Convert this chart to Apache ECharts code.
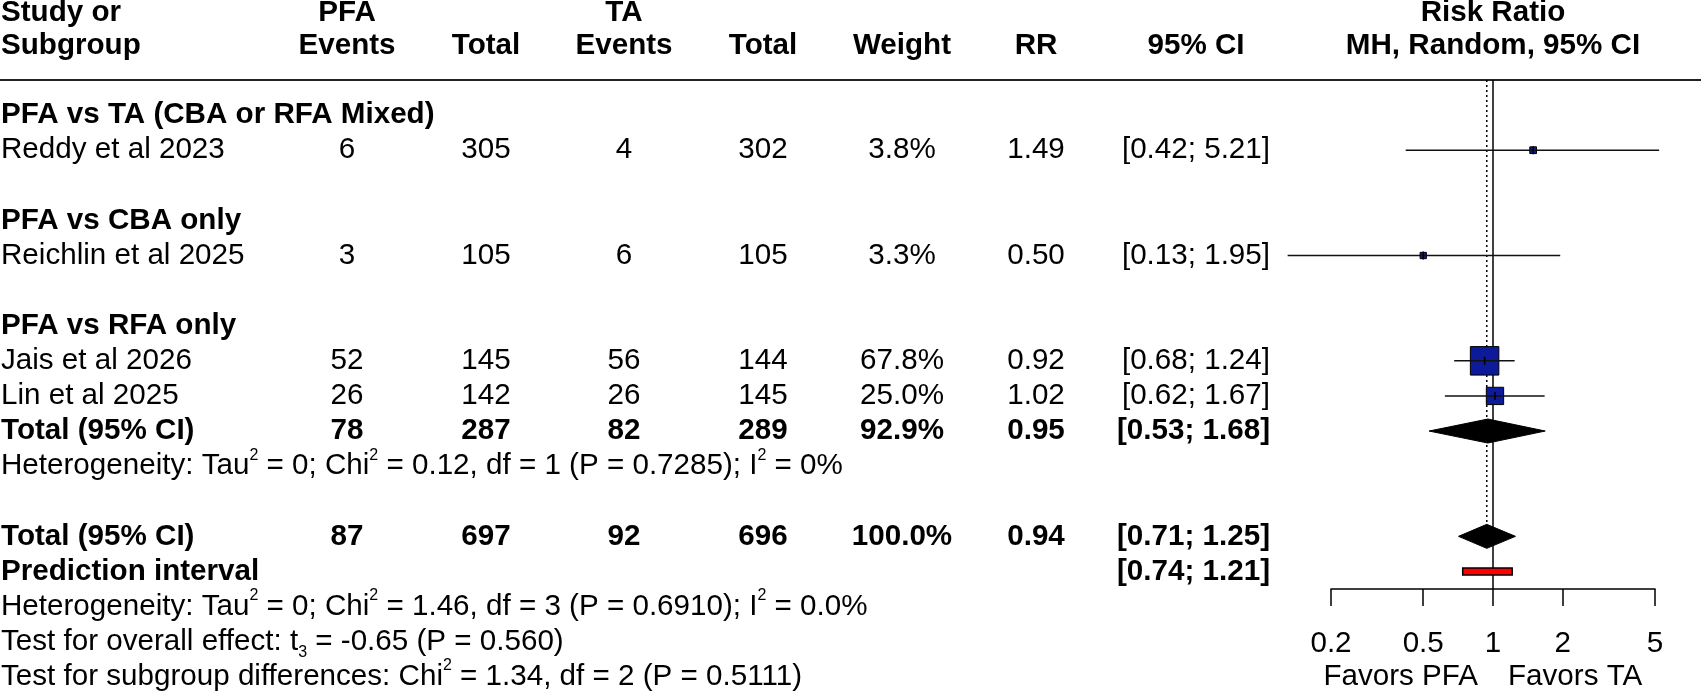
<!DOCTYPE html>
<html>
<head>
<meta charset="utf-8">
<title>Forest plot - PFA vs TA</title>
<script src="https://cdn.jsdelivr.net/npm/echarts@6/dist/echarts.min.js"></script>
<style>
html, body { margin: 0; padding: 0; background: #fff; }
#chart { width: 1701px; height: 695px; }
</style>
</head>
<body>
<div id="chart"></div>
<script>
// ---- data ----
var groups = ['PFA vs TA (CBA or RFA Mixed)', 'PFA vs CBA only', 'PFA vs RFA only'];
var studies = ['Reddy et al 2023', 'Reichlin et al 2025', 'Jais et al 2026', 'Lin et al 2025'];
var studyGroup = [0, 1, 2, 2];
var pfaEvents = [6, 3, 52, 26];
var pfaTotal = [305, 105, 145, 142];
var taEvents = [4, 6, 56, 26];
var taTotal = [302, 105, 144, 145];
var weights = [3.8, 3.3, 67.8, 25.0];
var rr = [1.49, 0.50, 0.92, 1.02];
var ciLow = [0.42, 0.13, 0.68, 0.62];
var ciHigh = [5.21, 1.95, 1.24, 1.67];

// pooled subgroup (only the subgroup with more than one study)
var subGroup = [2];
var subPfaEvents = [78];
var subPfaTotal = [287];
var subTaEvents = [82];
var subTaTotal = [289];
var subWeight = [92.9];
var subRR = [0.95];
var subLow = [0.53];
var subHigh = [1.68];
var subHet = ['Heterogeneity: Tau{sup|2} = 0; Chi{sup|2} = 0.12, df = 1 (P = 0.7285); I{sup|2} = 0%'];

// overall
var totalPfa = [87, 697];
var totalTa = [92, 696];
var totalWeight = [100.0];
var totalRR = [0.94];
var totalCI = [0.71, 1.25];
var predCI = [0.74, 1.21];
var footnotes = [
	'Heterogeneity: Tau{sup|2} = 0; Chi{sup|2} = 1.46, df = 3 (P = 0.6910); I{sup|2} = 0.0%',
	'Test for overall effect: t{sub|3} = -0.65 (P = 0.560)',
	'Test for subgroup differences: Chi{sup|2} = 1.34, df = 2 (P = 0.5111)'
];

var tickValues = [0.2, 0.5, 1, 2, 5];
var favorLabels = ['Favors PFA', 'Favors TA'];
var headTop = ['Study or', 'PFA', '', 'TA', '', '', '', '', 'Risk Ratio'];
var headBottom = ['Subgroup', 'Events', 'Total', 'Events', 'Total', 'Weight', 'RR', '95% CI', 'MH, Random, 95% CI'];

// ---- layout ----
var FONT = "'Liberation Sans', Arial, Helvetica, sans-serif";
var FS = 29.6;
var SQUARE_SCALE = 3.46;   // px per sqrt(weight)
var DIAMOND_H = 12;
var HEAD_ROWS = [-2.92, -1.98];
// column x (px) and alignment
var cols = [
	[1, 'left'], [347, 'center'], [486, 'center'], [624, 'center'], [763, 'center'],
	[902, 'center'], [1036, 'center'], [1270, 'right']
];
var headCols = [
	[1, 'left'], [347, 'center'], [486, 'center'], [624, 'center'], [763, 'center'],
	[902, 'center'], [1036, 'center'], [1196, 'center'], [1493, 'center']
];

function pct(v) { return v.toFixed(1) + '%'; }
function ci(a, b) { return '[' + a.toFixed(2) + '; ' + b.toFixed(2) + ']'; }

var cells = [];     // text cells
var squares = [];   // [rr, row, lo, hi, weight]
var diamonds = [];  // [est, row, lo, hi]

function pushRow(row, values, bold) {
	values.forEach(function (v, i) {
		if (v === null) return;
		cells.push({ row: row, x: cols[i][0], align: cols[i][1], text: String(v), bold: bold });
	});
}

headTop.forEach(function (t, i) {
	if (t) cells.push({ row: HEAD_ROWS[0], x: headCols[i][0], align: headCols[i][1], text: t, bold: true });
});
headBottom.forEach(function (t, i) {
	cells.push({ row: HEAD_ROWS[1], x: headCols[i][0], align: headCols[i][1], text: t, bold: true });
});

var row = 0;
groups.forEach(function (g, gi) {
	cells.push({ row: row, x: cols[0][0], align: 'left', text: g, bold: true });
	row++;
	studies.forEach(function (s, i) {
		if (studyGroup[i] !== gi) return;
		pushRow(row, [s, pfaEvents[i], pfaTotal[i], taEvents[i], taTotal[i],
			pct(weights[i]), rr[i].toFixed(2), ci(ciLow[i], ciHigh[i])], false);
		squares.push([rr[i], row, ciLow[i], ciHigh[i], weights[i]]);
		row++;
	});
	var k = subGroup.indexOf(gi);
	if (k >= 0) {
		pushRow(row, ['Total (95% CI)', subPfaEvents[k], subPfaTotal[k], subTaEvents[k], subTaTotal[k],
			pct(subWeight[k]), subRR[k].toFixed(2), ci(subLow[k], subHigh[k])], true);
		diamonds.push([subRR[k], row, subLow[k], subHigh[k]]);
		row++;
		cells.push({ row: row, x: cols[0][0], align: 'left', text: subHet[k] });
		row++;
	}
	row++;
});

var totalRow = row;
pushRow(row, ['Total (95% CI)', totalPfa[0], totalPfa[1], totalTa[0], totalTa[1],
	pct(totalWeight[0]), totalRR[0].toFixed(2), ci(totalCI[0], totalCI[1])], true);
diamonds.push([totalRR[0], row, totalCI[0], totalCI[1]]);
row++;
var predRow = row;
pushRow(row, ['Prediction interval', null, null, null, null, null, null, ci(predCI[0], predCI[1])], true);
row++;
footnotes.forEach(function (t) {
	cells.push({ row: row, x: cols[0][0], align: 'left', text: t });
	row++;
});
var favorRow = row - 1;

var rich = {
	sup: { fontSize: 16, lineHeight: 16, verticalAlign: 'top', fontFamily: FONT, fill: '#000' },
	sub: { fontSize: 16, lineHeight: 28, verticalAlign: 'bottom', fontFamily: FONT, fill: '#000' }
};

var chart = echarts.init(document.getElementById('chart'));

chart.setOption({
	animation: false,
	backgroundColor: '#fff',
	grid: { left: 1331, top: 80, width: 324, height: 509, outerBoundsMode: 'none' },
	xAxis: {
		type: 'log',
		logBase: 10,
		min: 0.2,
		max: 5,
		axisLine: { onZero: false, lineStyle: { color: '#000', width: 1.5 } },
		axisTick: { customValues: tickValues, length: 17, lineStyle: { color: '#000', width: 1.5 } },
		axisLabel: {
			customValues: tickValues,
			margin: 40,
			color: '#000',
			fontSize: FS,
			lineHeight: FS,
			fontFamily: FONT,
			formatter: function (v) { return String(+(+v).toPrecision(2)); }
		},
		splitLine: { show: false },
		minorTick: { show: false }
	},
	yAxis: { type: 'value', min: -1, max: 13.5, inverse: true, show: false },
	graphic: [{
		type: 'line',
		shape: { x1: 0, y1: 80, x2: 1701, y2: 80 },
		style: { stroke: '#222', lineWidth: 2 }
	}],
	series: [
		{
			// reference line at 1 and dotted pooled-estimate line
			type: 'custom',
			z: 1,
			data: [[1, -1]],
			renderItem: function (params, api) {
				var top = api.coord([1, -1]);
				var bottom = api.coord([1, 13.5]);
				var est = api.coord([totalRR[0], totalRow]);
				return {
					type: 'group',
					children: [
						{ type: 'line', shape: { x1: top[0], y1: top[1], x2: bottom[0], y2: bottom[1] },
							style: { stroke: '#000', lineWidth: 1.5 } },
						{ type: 'line', shape: { x1: est[0], y1: top[1], x2: est[0], y2: est[1] - DIAMOND_H },
							style: { stroke: '#000', lineWidth: 1.5, lineDash: [2, 3] } }
					]
				};
			}
		},
		{
			type: 'custom',
			z: 2,
			data: squares,
			renderItem: function (params, api) {
				var y = api.value(1);
				var p = api.coord([api.value(0), y]);
				var lo = api.coord([api.value(2), y]);
				var hi = api.coord([api.value(3), y]);
				var s = Math.sqrt(api.value(4)) * SQUARE_SCALE;
				return {
					type: 'group',
					children: [
						{ type: 'rect', shape: { x: p[0] - s / 2, y: p[1] - s / 2, width: s, height: s },
							style: { fill: '#0d1a99', stroke: '#000', lineWidth: 1 } },
						{ type: 'line', shape: { x1: lo[0], y1: p[1], x2: hi[0], y2: p[1] },
							style: { stroke: '#111', lineWidth: 1.5 } },
						{ type: 'line', shape: { x1: p[0], y1: p[1] - 4, x2: p[0], y2: p[1] + 4 },
							style: { stroke: '#000', lineWidth: 1.5 } }
					]
				};
			}
		},
		{
			type: 'custom',
			z: 2,
			data: diamonds,
			renderItem: function (params, api) {
				var y = api.value(1);
				var p = api.coord([api.value(0), y]);
				var lo = api.coord([api.value(2), y]);
				var hi = api.coord([api.value(3), y]);
				return {
					type: 'polygon',
					shape: { points: [[lo[0], p[1]], [p[0], p[1] - DIAMOND_H], [hi[0], p[1]], [p[0], p[1] + DIAMOND_H]] },
					style: { fill: '#000', stroke: '#000', lineWidth: 1 }
				};
			}
		},
		{
			// prediction interval bar
			type: 'custom',
			z: 2,
			data: [[predCI[0], predRow, predCI[1]]],
			renderItem: function (params, api) {
				var lo = api.coord([api.value(0), api.value(1)]);
				var hi = api.coord([api.value(2), api.value(1)]);
				return {
					type: 'rect',
					shape: { x: lo[0], y: lo[1] - 3.5, width: hi[0] - lo[0], height: 7 },
					style: { fill: '#ff0000', stroke: '#000', lineWidth: 1.5 }
				};
			}
		},
		{
			// favours labels under the axis
			type: 'custom',
			z: 3,
			data: [[1, favorRow], [1, favorRow]],
			renderItem: function (params, api) {
				var p = api.coord([api.value(0), api.value(1)]);
				var left = params.dataIndex === 0;
				return {
					type: 'text',
					x: p[0] + (left ? -15 : 15),
					y: p[1],
					style: {
						text: favorLabels[params.dataIndex],
						fill: '#000',
						fontSize: FS,
						fontFamily: FONT,
						align: left ? 'right' : 'left',
						verticalAlign: 'middle'
					}
				};
			}
		},
		{
			// table text
			type: 'custom',
			z: 3,
			data: cells.map(function (c) { return [1, c.row]; }),
			renderItem: function (params, api) {
				var c = cells[params.dataIndex];
				var y = api.coord([1, c.row])[1];
				var hasRich = c.text.indexOf('{') >= 0;
				return {
					type: 'text',
					x: c.x,
					y: y,
					style: {
						text: c.text,
						fill: '#000',
						fontSize: FS,
						fontFamily: FONT,
						fontWeight: c.bold ? 'bold' : 'normal',
						lineHeight: hasRich ? 38 : FS,
						align: c.align,
						verticalAlign: 'middle',
						rich: rich
					}
				};
			}
		}
	]
});
</script>
</body>
</html>
